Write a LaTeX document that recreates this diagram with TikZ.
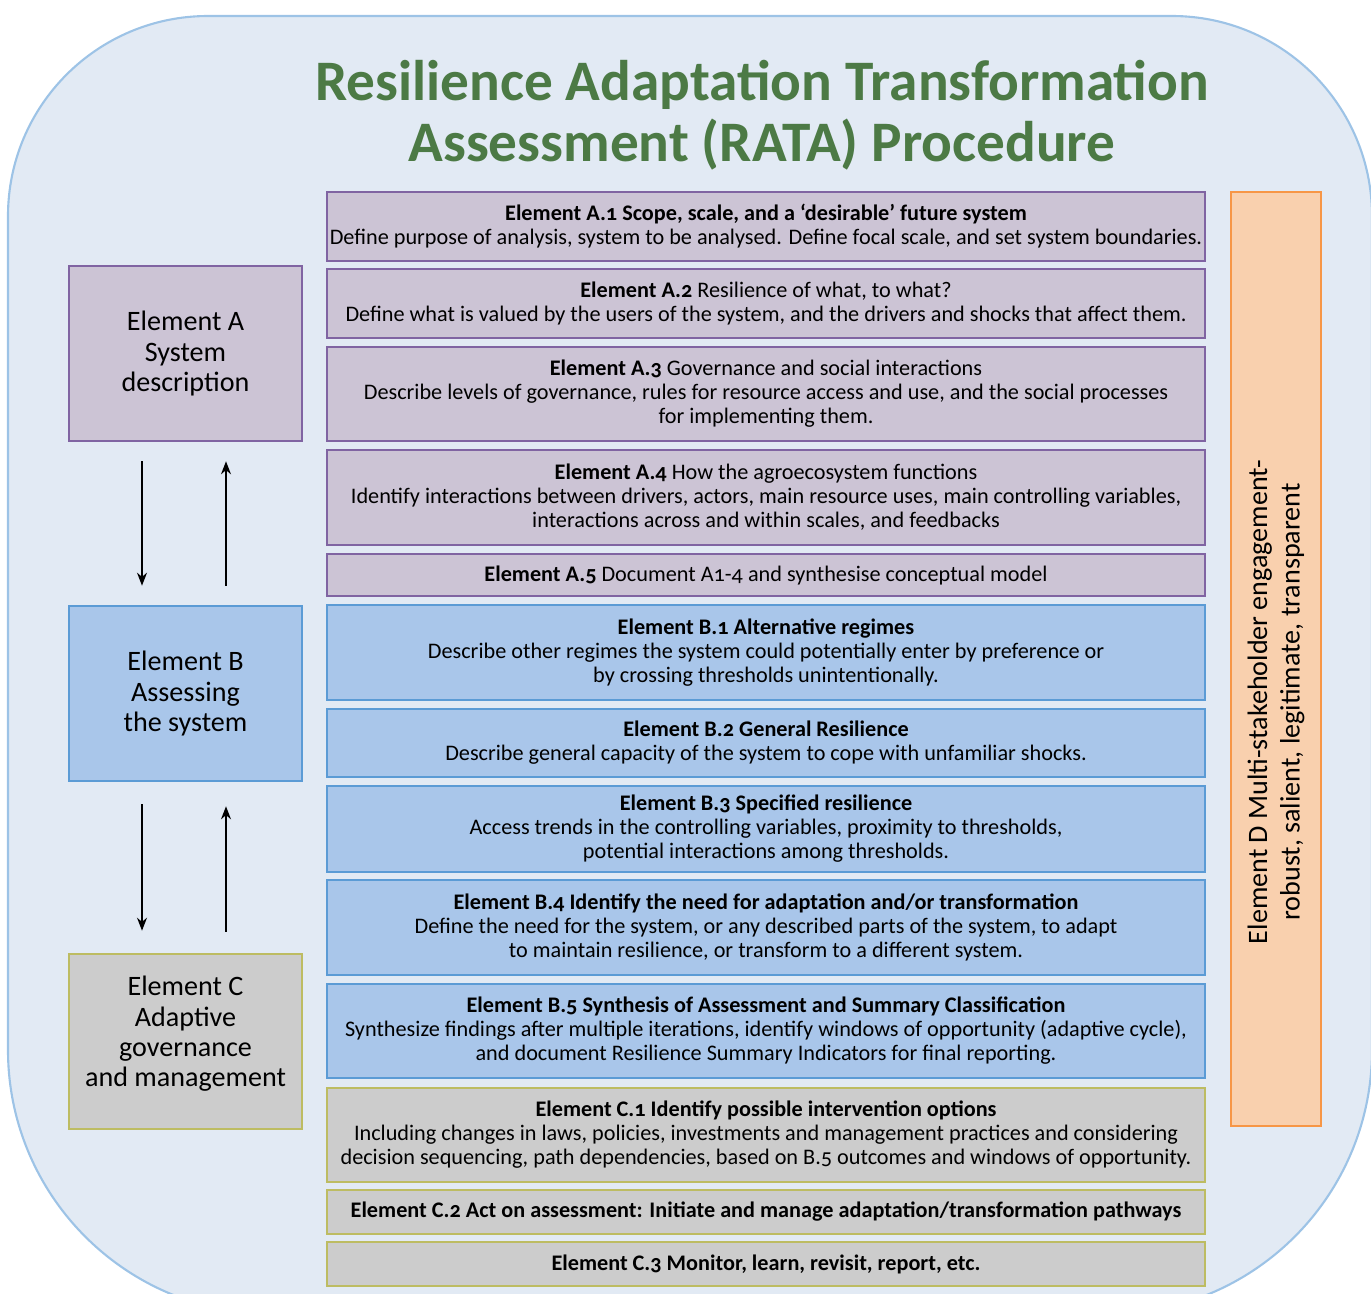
\documentclass[tikz,border=0pt]{standalone}
\usepackage{fontspec}
\setmainfont{Carlito}[Numbers=OldStyle]
\usetikzlibrary{arrows.meta}
\definecolor{bgfill}{HTML}{E2EAF4}
\definecolor{bgline}{HTML}{9DC3E6}
\definecolor{titlegreen}{HTML}{4C7A45}
\definecolor{purplefill}{HTML}{CCC4D5}
\definecolor{purpleline}{HTML}{8064A2}
\definecolor{bluefill}{HTML}{A9C6EA}
\definecolor{blueline}{HTML}{5B9BD5}
\definecolor{grayfill}{HTML}{CCCCCC}
\definecolor{oliveline}{HTML}{BDBC62}
\definecolor{peachfill}{HTML}{F9D0AE}
\definecolor{orangeline}{HTML}{F79646}
\begin{document}
\begin{tikzpicture}[
	elem/.style={draw, line width=1.5pt, minimum width=17.56cm, inner sep=0pt, align=center, font=\fontsize{12.65}{13.7}\selectfont},
	elemA/.style={elem, fill=purplefill, draw=purpleline},
	elemB/.style={elem, fill=bluefill, draw=blueline},
	elemC/.style={elem, fill=grayfill, draw=oliveline},
	group/.style={draw, line width=1.5pt, minimum width=4.66cm, minimum height=3.5cm, inner sep=0pt, align=center, font=\fontsize{16}{17.2}\selectfont},
	flow/.style={line width=0.8pt, -{Stealth[length=2.6mm,width=2mm]}}
	]
	\useasboundingbox (0,0) rectangle (27.42,-25.86);
	\begin{scope}
	\clip (0,0) rectangle (27.42,-25.86);
	\draw[fill=bgfill, draw=bgline, line width=1.2pt] (0.16,-4.32) arc[start angle=180, end angle=90, radius=4] -- (23.44,-0.32) arc[start angle=90, end angle=0, radius=4] -- (27.44,-21) arc[start angle=0, end angle=-90, radius=5.28] -- (5.44,-26.28) arc[start angle=270, end angle=180, radius=5.28] -- cycle;
	\end{scope}

	\node[align=center, text=titlegreen, font=\bfseries\fontsize{32.6}{34.4}\selectfont] (title) at (15.24,-2.3) {Resilience Adaptation Transformation\\Assessment (RATA) Procedure};

	\node[elemA, minimum height=1.38cm] (a1) at (15.32,-4.53) {\textbf{Element A.1 Scope, scale, and a ‘desirable’ future system}\\Define purpose of analysis, system to be analysed. Define focal scale, and set system boundaries.};
	\node[elemA, minimum height=1.38cm] (a2) at (15.32,-6.07) {\textbf{Element A.2} Resilience of what, to what?\\Define what is valued by the users of the system, and the drivers and shocks that affect them.};
	\node[elemA, minimum height=1.88cm] (a3) at (15.32,-7.88) {\textbf{Element A.3} Governance and social interactions\\Describe levels of governance, rules for resource access and use, and the social processes\\for implementing them.};
	\node[elemA, minimum height=1.9cm] (a4) at (15.32,-9.95) {\textbf{Element A.4} How the agroecosystem functions\\Identify interactions between drivers, actors, main resource uses, main controlling variables,\\interactions across and within scales, and feedbacks};
	\node[elemA, minimum height=0.84cm] (a5) at (15.32,-11.5) {\textbf{Element A.5} Document A1-4 and synthesise conceptual model};
	\node[elemB, minimum height=1.9cm] (b1) at (15.32,-13.05) {\textbf{Element B.1 Alternative regimes}\\Describe other regimes the system could potentially enter by preference or\\by crossing thresholds unintentionally.};
	\node[elemB, minimum height=1.36cm] (b2) at (15.32,-14.86) {\textbf{Element B.2 General Resilience}\\Describe general capacity of the system to cope with unfamiliar shocks.};
	\node[elemB, minimum height=1.72cm] (b3) at (15.32,-16.58) {\textbf{Element B.3 Specified resilience}\\Access trends in the controlling variables, proximity to thresholds,\\potential interactions among thresholds.};
	\node[elemB, minimum height=1.9cm] (b4) at (15.32,-18.55) {\textbf{Element B.4 Identify the need for adaptation and/or transformation}\\Define the need for the system, or any described parts of the system, to adapt\\to maintain resilience, or transform to a different system.};
	\node[elemB, minimum height=1.88cm] (b5) at (15.32,-20.62) {\textbf{Element B.5 Synthesis of Assessment and Summary Classification}\\Synthesize findings after multiple iterations, identify windows of opportunity (adaptive cycle),\\and document Resilience Summary Indicators for final reporting.};
	\node[elemC, minimum height=1.88cm] (c1) at (15.32,-22.7) {\textbf{Element C.1 Identify possible intervention options}\\Including changes in laws, policies, investments and management practices and considering\\decision sequencing, path dependencies, based on B.5 outcomes and windows of opportunity.};
	\node[elemC, minimum height=0.88cm] (c2) at (15.32,-24.24) {\textbf{Element C.2 Act on assessment: Initiate and manage adaptation/transformation pathways}};
	\node[elemC, minimum height=0.88cm] (c3) at (15.32,-25.28) {\textbf{Element C.3 Monitor, learn, revisit, report, etc.}};

	\node[group, fill=purplefill, draw=purpleline] (groupA) at (3.71,-7.07) {Element A\\System\\description};
	\node[group, fill=bluefill, draw=blueline] (groupB) at (3.71,-13.87) {Element B\\Assessing\\the system};
	\node[group, fill=grayfill, draw=oliveline] (groupC) at (3.71,-20.83) {Element C\\Adaptive\\governance\\and management\\[-0.2cm]};

	\draw[flow, shorten <=0.38cm, shorten >=0.38cm] ([xshift=-0.87cm]groupA.south) -- ([xshift=-0.87cm]groupB.north);
	\draw[flow, shorten <=0.38cm, shorten >=0.38cm] ([xshift=0.81cm]groupB.north) -- ([xshift=0.81cm]groupA.south);
	\draw[flow, shorten <=0.44cm, shorten >=0.44cm] ([xshift=-0.87cm]groupB.south) -- ([xshift=-0.87cm]groupC.north);
	\draw[flow, shorten <=0.42cm, shorten >=0.48cm] ([xshift=0.81cm]groupC.north) -- ([xshift=0.81cm]groupB.south);

	\node[draw=orangeline, fill=peachfill, line width=1.5pt, minimum width=1.8cm, minimum height=18.68cm] (elemD) at (25.52,-13.18) {};
	\node[rotate=90, align=center, font=\fontsize{16}{18.6}\selectfont] (elemDtext) at ([yshift=-0.86cm]elemD.center) {Element D Multi-stakeholder engagement-\\robust, salient, legitimate, transparent};
\end{tikzpicture}
\end{document}
